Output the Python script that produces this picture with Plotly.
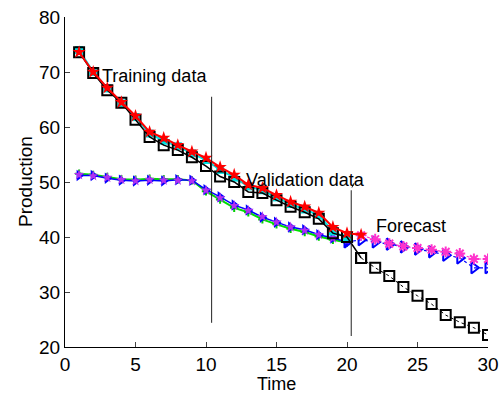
import plotly.graph_objects as go

time_fit = list(range(1, 21))
time_red = list(range(1, 22))
time_fc = list(range(21, 31))

actual_top = [73.6, 69.8, 66.7, 64.4, 61.3, 58.2, 56.7, 55.8, 54.5, 52.9,
              51.0, 50.0, 48.2, 48.0, 46.7, 45.5, 44.5, 43.3, 40.7, 40.0]
forecast_top = [36.2, 34.4, 32.9, 30.9, 29.3, 27.8, 25.8, 24.5, 23.5, 22.2]
cyan_top = [74.0, 70.0, 67.0, 64.3, 61.8, 58.8, 57.5, 56.5, 55.2, 54.0,
            52.2, 50.8, 49.2, 48.5, 47.2, 46.0, 45.0, 44.0, 41.0, 39.8]
red_top = [73.6, 70.0, 67.1, 64.5, 62.0, 59.1, 58.0, 56.7, 55.5, 54.4,
           52.7, 51.3, 49.5, 48.9, 47.6, 46.4, 45.5, 44.4, 41.8, 40.7, 40.4]

blue_low = [51.2, 51.2, 50.7, 50.3, 50.2, 50.3, 50.2, 50.4, 50.3, 48.6,
            47.3, 45.8, 44.9, 43.6, 42.7, 41.8, 41.3, 40.4, 39.8, 39.1]
green_low = [51.5, 51.3, 50.9, 50.5, 50.4, 50.6, 50.5, 50.5, 50.3, 48.3,
             46.8, 45.3, 44.5, 43.2, 42.3, 41.5, 40.9, 40.1, 39.5, 39.0]
purple_low = [51.3, 51.1, 50.8, 50.4, 50.2, 50.4, 50.3, 50.3, 50.2, 48.5,
              47.1, 45.7, 44.8, 43.7, 42.7, 41.8, 41.2, 40.4, 39.8, 39.3]
blue_fc = [39.5, 39.1, 38.7, 38.2, 37.8, 37.3, 36.7, 36.2, 34.4, 34.4]
pink_fc = [40.3, 39.6, 38.8, 38.3, 38.0, 37.7, 37.3, 37.0, 36.0, 36.0]

labels = ["Training data", "Validation data", "Forecast"]
label_x = [2.5, 12.7, 21.9]
label_y = [69.3, 50.4, 42.0]
divider_x = [10.4, 20.3]
divider_y0 = [24.4, 22.0]
divider_y1 = [65.5, 48.5]

fig = go.Figure()

# lower group
fig.add_trace(go.Scatter(x=time_fit, y=green_low, mode="lines+markers",
                         line=dict(color="#00e000", width=2),
                         marker=dict(symbol="cross-thin", size=6, line=dict(color="#00d000", width=2))))
fig.add_trace(go.Scatter(x=time_fit, y=blue_low, mode="lines+markers",
                         line=dict(color="#0000ff", width=1.5),
                         marker=dict(symbol="triangle-right", size=10, color="#0000ff")))
fig.add_trace(go.Scatter(x=time_fit, y=purple_low, mode="markers",
                         marker=dict(symbol="star", size=8, color="#b030f0")))

# forecasts of lower group
fig.add_trace(go.Scatter(x=[20] + time_fc, y=[blue_low[-1]] + blue_fc, mode="lines+markers",
                         line=dict(color="#0000ff", width=1.2, dash="dot"),
                         marker=dict(symbol="triangle-right-open", size=10, line=dict(color="#0000ff", width=2))))
fig.add_trace(go.Scatter(x=time_fc, y=pink_fc, mode="lines+markers",
                         line=dict(color="#ff33cc", width=1.2, dash="dot"),
                         marker=dict(symbol="asterisk-open", size=9, line=dict(color="#ff3399", width=2))))

# top group
fig.add_trace(go.Scatter(x=time_fit, y=cyan_top, mode="lines+markers",
                         line=dict(color="#00e0e0", width=2),
                         marker=dict(symbol="square", size=8, color="#00e0e0")))
fig.add_trace(go.Scatter(x=time_fit + time_fc[:1], y=actual_top + forecast_top[:1], mode="lines+markers",
                         line=dict(color="#000000", width=1.5),
                         marker=dict(symbol="square-open", size=10, line=dict(color="#000000", width=2))))
fig.add_trace(go.Scatter(x=time_fc, y=forecast_top, mode="lines+markers",
                         line=dict(color="#000000", width=1, dash="dot"),
                         marker=dict(symbol="square-open", size=10, line=dict(color="#000000", width=2))))
fig.add_trace(go.Scatter(x=time_red, y=red_top, mode="lines+markers",
                         line=dict(color="#ff0000", width=2),
                         marker=dict(symbol="star", size=10, color="#ff0000")))

shapes = []
for xv, y0, y1 in zip(divider_x, divider_y0, divider_y1):
    shapes.append(dict(type="line", xref="x", yref="y", x0=xv, x1=xv, y0=y0, y1=y1,
                       line=dict(color="#222222", width=1)))
shapes.append(dict(type="line", xref="x", yref="y", x0=divider_x[1] + 0.05, x1=divider_x[1] + 0.2,
                   y0=divider_y1[1] + 0.5, y1=divider_y1[1] + 1.3, line=dict(color="#222222", width=1)))

annotations = [dict(x=lx, y=ly, text=t, showarrow=False, xanchor="left", yanchor="middle",
                    font=dict(size=18, color="black"))
               for t, lx, ly in zip(labels, label_x, label_y)]
annotations.append(dict(x=0.5, y=0, xref="paper", yref="paper", text="Time", showarrow=False,
                        xanchor="center", yanchor="middle", yshift=-37,
                        font=dict(size=18, color="black")))
annotations.append(dict(x=0, y=0.5, xref="paper", yref="paper", text="Production", showarrow=False,
                        xanchor="center", yanchor="middle", textangle=-90, xshift=-40,
                        font=dict(size=19, color="black")))

fig.update_layout(
    width=499, height=394,
    margin=dict(l=65, r=11, t=17, b=47),
    paper_bgcolor="white", plot_bgcolor="white",
    showlegend=False,
    font=dict(family="Liberation Sans, Arial, sans-serif", size=19, color="black"),
    shapes=shapes, annotations=annotations,
    xaxis=dict(range=[0, 30], tickvals=[0, 5, 10, 15, 20, 25, 30], ticks="inside", ticklen=5,
               showline=True, linecolor="black", linewidth=1, showgrid=False, zeroline=False,
               automargin=False, tickfont=dict(size=19)),
    yaxis=dict(range=[20, 80], tickvals=[20, 30, 40, 50, 60, 70, 80], ticks="inside", ticklen=5,
               showline=True, linecolor="black", linewidth=1, showgrid=False, zeroline=False,
               automargin=False, tickfont=dict(size=19)),
)

fig.write_html("out.html", config={"displayModeBar": False},
               post_script="document.body.style.margin='0';document.body.style.overflow='hidden';")
